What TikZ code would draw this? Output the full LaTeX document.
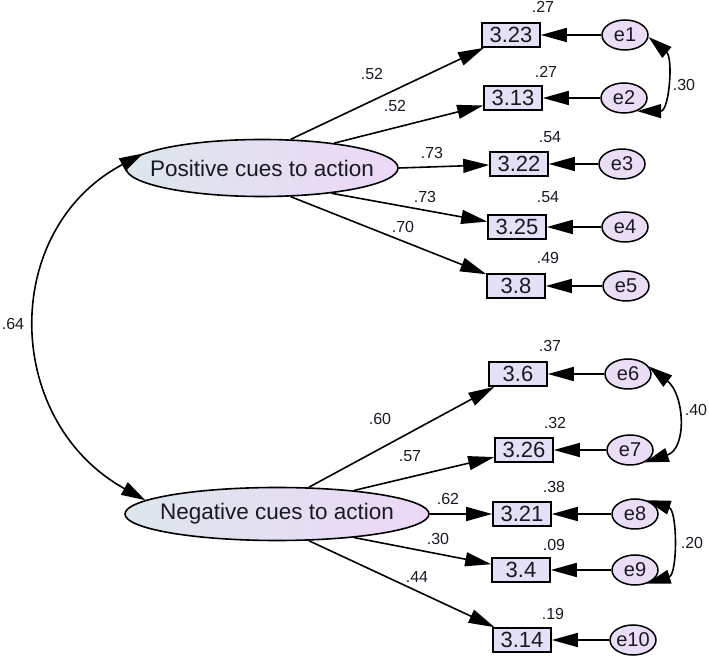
\documentclass[tikz,border=0pt]{standalone}
\usepackage{fontspec}
\setmainfont{Liberation Sans}
\usetikzlibrary{arrows.meta,shapes.geometric}

\definecolor{latL}{RGB}{220,230,236}
\definecolor{latR}{RGB}{236,216,246}
\definecolor{boxc}{RGB}{230,224,246}
\definecolor{errc}{RGB}{234,222,246}
\definecolor{ink}{RGB}{25,25,35}

\begin{document}
\begin{tikzpicture}[x=1pt, y=1pt, text=ink,
	latent/.style={ellipse, draw, line width=1.6pt, left color=latL, right color=latR,
		inner xsep=-20pt, inner ysep=0pt, minimum width=272pt, minimum height=57pt,
		font=\fontsize{22.5}{22.5}\selectfont},
	obs/.style={rectangle, draw, line width=1.6pt, fill=boxc, minimum width=58pt,
		minimum height=24pt, inner sep=0pt, font=\fontsize{22}{22}\selectfont},
	err/.style={ellipse, draw, line width=1.5pt, fill=errc, minimum width=46pt,
		minimum height=30pt, inner xsep=-6pt, inner ysep=0pt, font=\fontsize{20}{20}\selectfont},
	num/.style={inner sep=0pt, font=\fontsize{16}{16}\selectfont},
	load/.style={-{Triangle[length=26pt, width=14pt]}, line width=1.6pt},
	cov/.style={{Triangle[length=24pt, width=14pt]}-{Triangle[length=24pt, width=14pt]}, line width=1.6pt},
	]
	\useasboundingbox (0,0) rectangle (709,661);
	
	% latent variables
	\node[latent] (P) at (262,493) {Positive cues to action};
	\node[latent, minimum width=304pt, minimum height=53pt] (N) at (277,147) {Negative cues to action};
	
	% observed items
	\node[obs] (O1) at (511,626) {3.23};
	\node[obs] (O2) at (513,563) {3.13};
	\node[obs] (O3) at (519,497) {3.22};
	\node[obs] (O4) at (517,434) {3.25};
	\node[obs] (O5) at (516,375) {3.8};
	\node[obs] (O6) at (518,287) {3.6};
	\node[obs] (O7) at (524,211) {3.26};
	\node[obs] (O8) at (522,147) {3.21};
	\node[obs] (O9) at (521,91) {3.4};
	\node[obs] (O10) at (522,21) {3.14};
	
	% error terms
	\node[err] (E1) at (625,626) {e1};
	\node[err] (E2) at (624,563) {e2};
	\node[err] (E3) at (622,497) {e3};
	\node[err] (E4) at (625,434) {e4};
	\node[err] (E5) at (626,375) {e5};
	\node[err] (E6) at (628,287) {e6};
	\node[err] (E7) at (630,211) {e7};
	\node[err] (E8) at (635,147) {e8};
	\node[err] (E9) at (635,91) {e9};
	\node[err] (E10) at (633,21) {e10};
	
	% loadings
	\draw[load] (P.45) -- (O1);
	\draw[load] (P.19) -- (O2);
	\draw[load] (P.0) -- (O3);
	\draw[load] (P.-20) -- (O4);
	\draw[load] (P.-45) -- (O5);
	\draw[load] (N.40) -- (O6);
	\draw[load] (N.17) -- (O7);
	\draw[load] (N.0) -- (O8);
	\draw[load] (N.-17) -- (O9);
	\draw[load] (N.-40) -- (O10);
	
	\draw[load] (E1) -- (O1);
	\draw[load] (E2) -- (O2);
	\draw[load] (E3) -- (O3);
	\draw[load] (E4) -- (O4);
	\draw[load] (E5) -- (O5);
	\draw[load] (E6) -- (O6);
	\draw[load] (E7) -- (O7);
	\draw[load] (E8) -- (O8);
	\draw[load] (E9) -- (O9);
	\draw[load] (E10) -- (O10);
	
	% covariances
	\draw[cov] (P.173) to[out=208, in=151, looseness=1.2] (N.174);
	\draw[cov] (E1.-5) to[out=-40, in=0, looseness=1.1] (E2.-45);
	\draw[cov] (E6.20) to[out=-38, in=18, looseness=1.2] (E7.-40);
	\draw[cov] (E8.50) to[out=-18, in=17, looseness=1.0] (E9.-50);
	
	% coefficients
	\node[num] (L1) at (372,587) {.52};
	\node[num] (L2) at (395,555) {.52};
	\node[num] (L3) at (432,508) {.73};
	\node[num] (L4) at (425,464) {.73};
	\node[num] (L5) at (403,434) {.70};
	\node[num] (L6) at (380,242) {.60};
	\node[num] (L7) at (410,205) {.57};
	\node[num] (L8) at (448,162) {.62};
	\node[num] (L9) at (438,122) {.30};
	\node[num] (L10) at (417,84) {.44};
	
	\node[num] (R1) at (543,654) {.27};
	\node[num] (R2) at (546,589) {.27};
	\node[num] (R3) at (550,524) {.54};
	\node[num] (R4) at (548,464) {.54};
	\node[num] (R5) at (548,403) {.49};
	\node[num] (R6) at (550,315) {.37};
	\node[num] (R7) at (555,238) {.32};
	\node[num] (R8) at (554,174) {.38};
	\node[num] (R9) at (554,116) {.09};
	\node[num] (R10) at (553,47) {.19};
	
	\node[num] (C1) at (684,576) {.30};
	\node[num] (C2) at (696,251) {.40};
	\node[num] (C3) at (692,118) {.20};
	\node[num] (C4) at (13,337) {.64};
\end{tikzpicture}
\end{document}
